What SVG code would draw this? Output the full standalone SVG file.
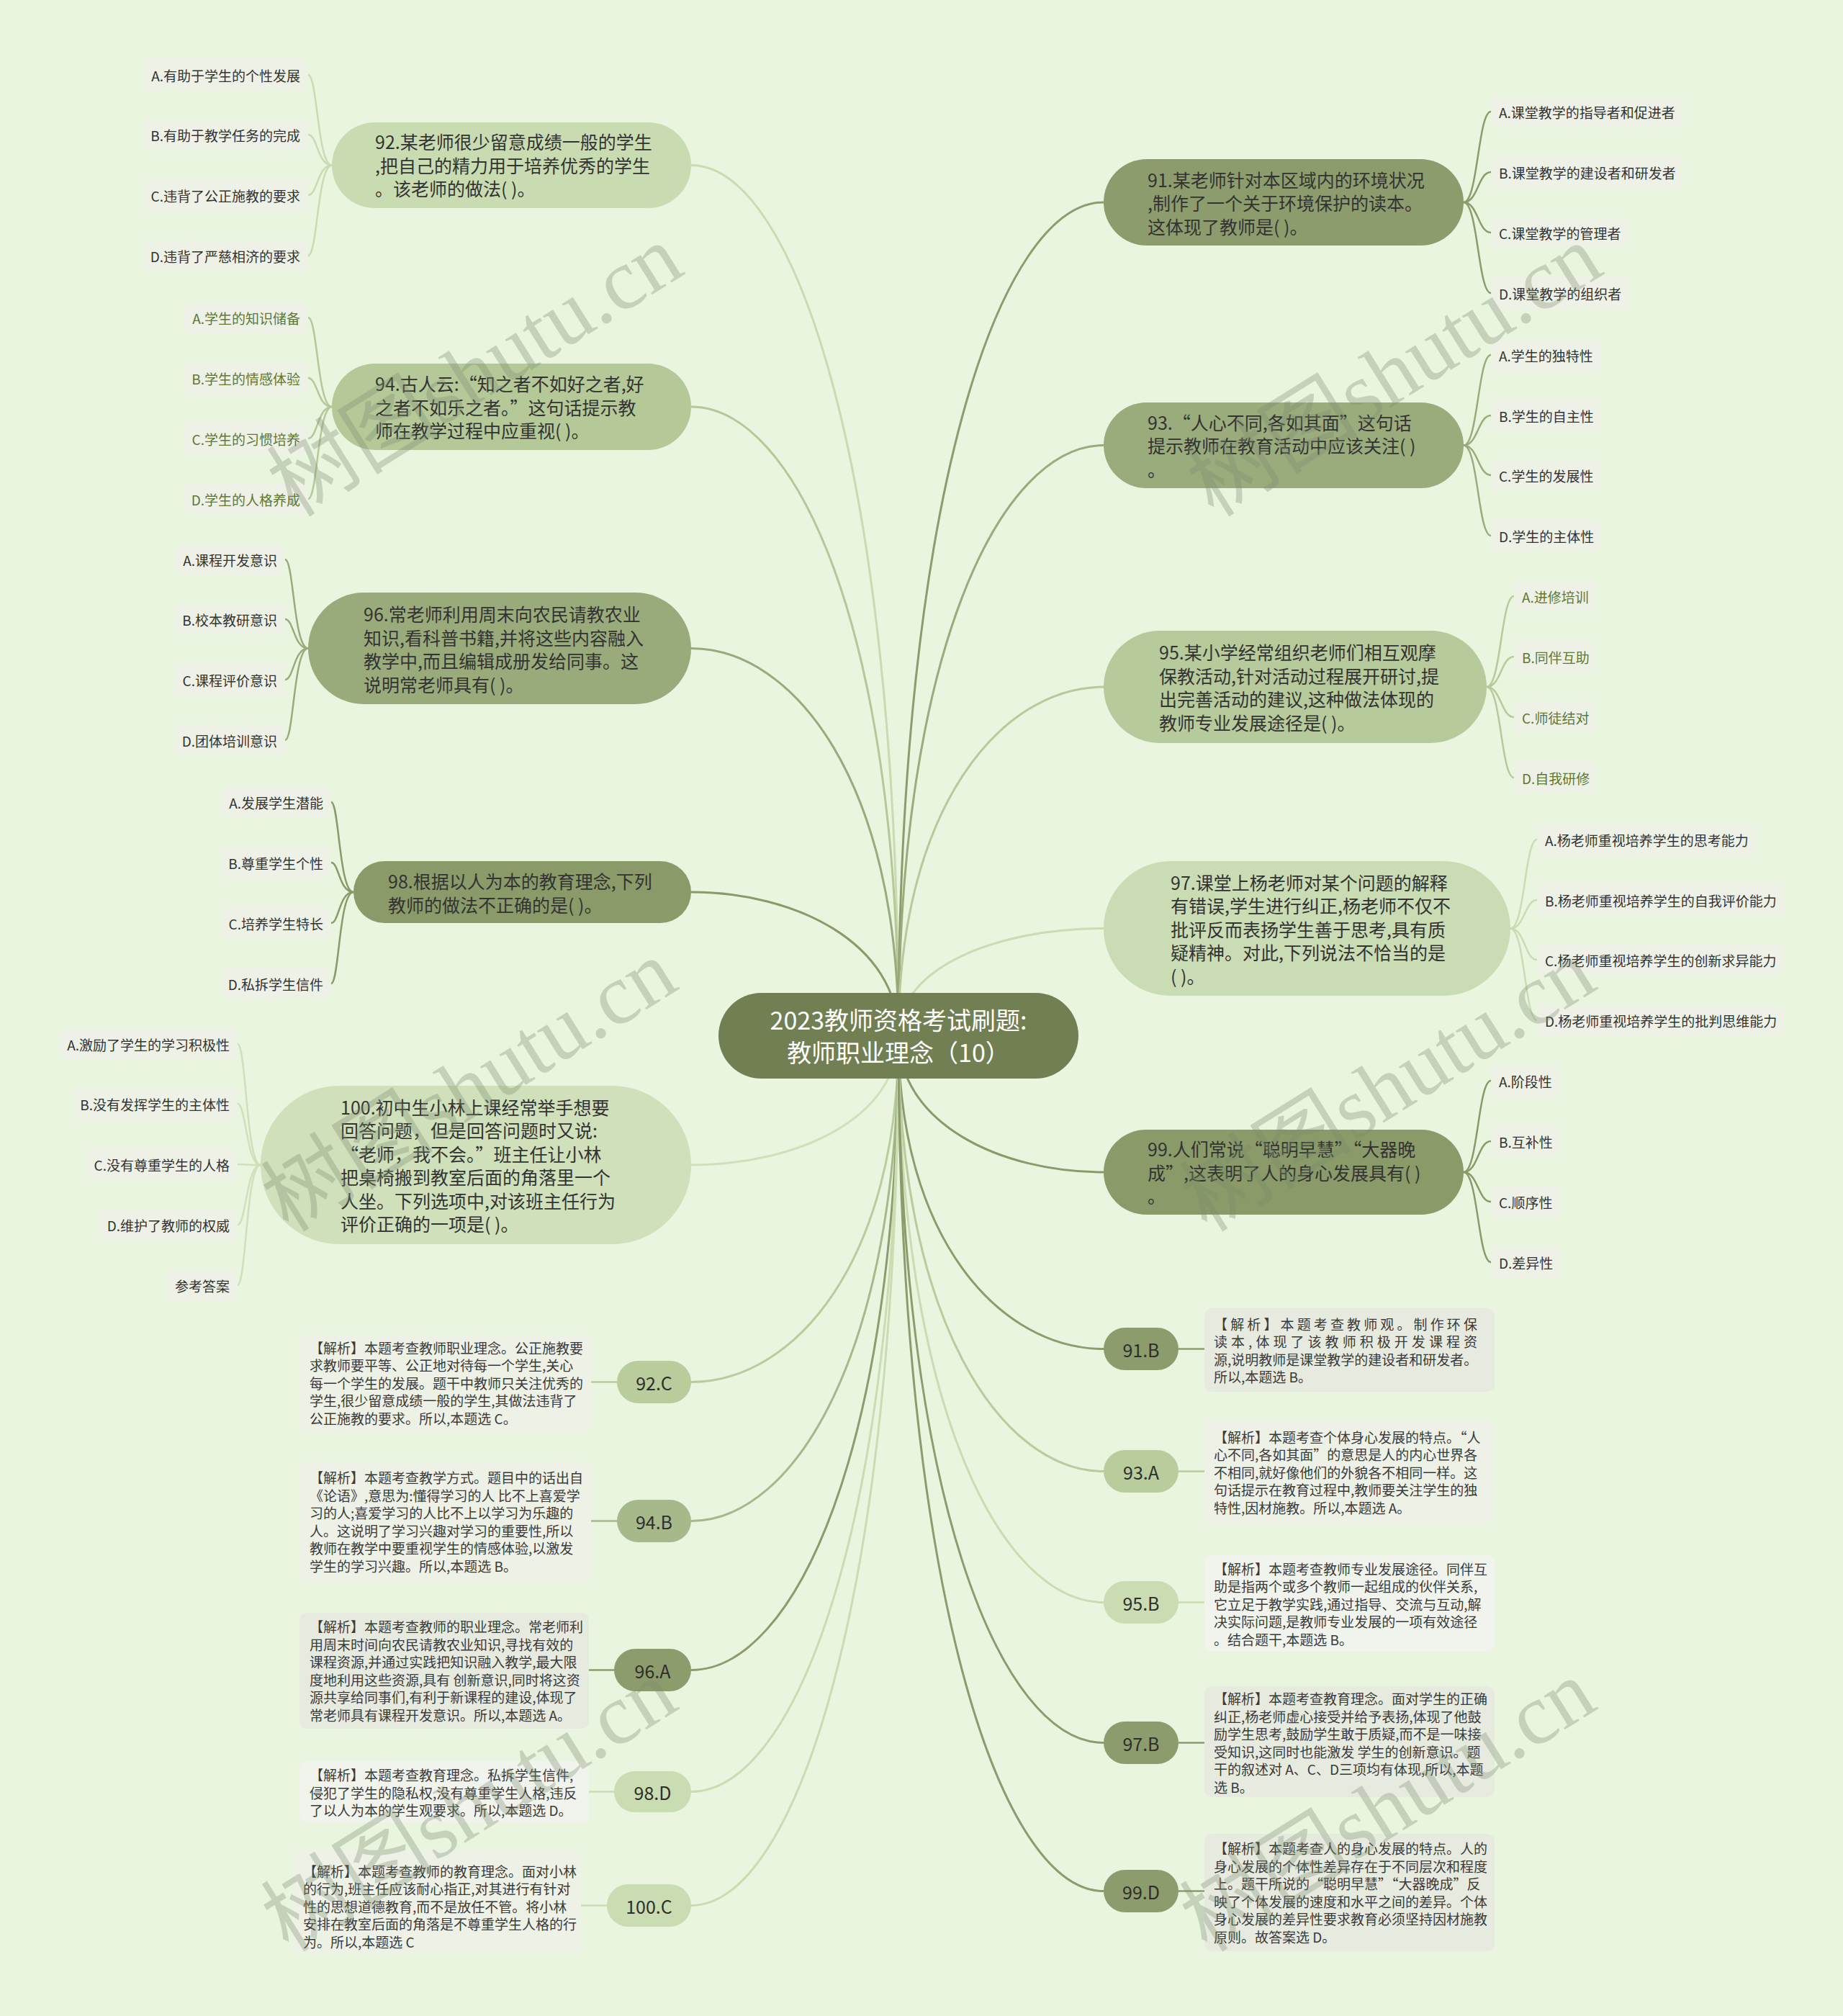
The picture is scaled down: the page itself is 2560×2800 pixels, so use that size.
<svg xmlns="http://www.w3.org/2000/svg" width="2560" height="2800" viewBox="0 0 2560 2800">
<style>
.t{font-family:"Noto Sans CJK SC","Noto Sans",sans-serif;dominant-baseline:central}
.main{font-size:25px;fill:#333}
.opt{font-size:19px;fill:#333}
.ol{text-anchor:end}
.g{fill:#5f7833}
.note{font-size:19px;fill:#3a3a3a}
.ans{font-size:25px;fill:#2e2e2e;text-anchor:middle}
.root{font-size:34px;fill:#fff;text-anchor:middle}
.ob{fill:#eef2e6}
.nb{fill:#edf1e6}
.c{fill:none;stroke-width:3}
.oc{fill:none;stroke-width:2.5}
.wm{font-family:"Liberation Serif","Noto Sans CJK SC",serif;font-size:120px;fill:#7d8c70;opacity:0.32;text-anchor:middle;dominant-baseline:central}
</style>
<rect x="0" y="0" width="2560" height="2800" fill="#e9f5de"/>

<g id="connectors">
<path class="c" stroke="#c9dcb1" d="M1248,1438 C1248,652 1104,229.5 960,229.5"/>
<path class="c" stroke="#b4c898" d="M1248,1438 C1248,871 1104,565 960,565"/>
<path class="c" stroke="#9aab7b" d="M1248,1438 C1248,1089 1104,900.5 960,900.5"/>
<path class="c" stroke="#8a9a69" d="M1248,1438 C1248,1309 1104,1239 960,1239"/>
<path class="c" stroke="#cfe0bb" d="M1248,1438 C1248,1555 1104,1618 960,1618"/>
<path class="c" stroke="#b8cc9c" d="M1248,1438 C1248,1751 1104,1919.5 960,1919.5"/>
<path class="c" stroke="#a6b98a" d="M1248,1438 C1248,1876 1104,2112.5 960,2112.5"/>
<path class="c" stroke="#8d9c6c" d="M1248,1438 C1248,2011 1104,2319.5 960,2319.5"/>
<path class="c" stroke="#c9dcb2" d="M1248,1438 C1248,2121 1104,2488.5 960,2488.5"/>
<path class="c" stroke="#c9dcb2" d="M1248,1438 C1248,2223 1104,2646.5 960,2646.5"/>
<path class="c" stroke="#8d9c6d" d="M1248,1438 C1248,686 1390,281 1533,281"/>
<path class="c" stroke="#9aab7c" d="M1248,1438 C1248,905 1390,618.5 1533,618.5"/>
<path class="c" stroke="#b6ca9b" d="M1248,1438 C1248,1123 1390,954 1533,954"/>
<path class="c" stroke="#cadcb3" d="M1248,1438 C1248,1341 1390,1289.5 1533,1289.5"/>
<path class="c" stroke="#8a9a68" d="M1248,1438 C1248,1561 1390,1628 1533,1628"/>
<path class="c" stroke="#8d9c6c" d="M1248,1438 C1248,1721 1390,1873.5 1533,1873.5"/>
<path class="c" stroke="#b8cc9c" d="M1248,1438 C1248,1832 1390,2043.5 1533,2043.5"/>
<path class="c" stroke="#c9dcb2" d="M1248,1438 C1248,1950 1390,2225.5 1533,2225.5"/>
<path class="c" stroke="#8d9c6c" d="M1248,1438 C1248,2077 1390,2420.5 1533,2420.5"/>
<path class="c" stroke="#8d9c6c" d="M1248,1438 C1248,2210 1390,2626.5 1533,2626.5"/>

<g stroke="#c9dcb1" class="oc">
<path d="M461,229.5 C441,229.5 441,104 428,104"/><path d="M461,229.5 C441,229.5 441,187 428,187"/><path d="M461,229.5 C441,229.5 441,271 428,271"/><path d="M461,229.5 C441,229.5 441,355 428,355"/>
</g>
<g stroke="#b4c898" class="oc">
<path d="M461,565 C441,565 441,441 428,441"/><path d="M461,565 C441,565 441,525 428,525"/><path d="M461,565 C441,565 441,609 428,609"/><path d="M461,565 C441,565 441,693 428,693"/>
</g>
<g stroke="#9aab7b" class="oc">
<path d="M428,900.5 C408,900.5 408,777 396,777"/><path d="M428,900.5 C408,900.5 408,860 396,860"/><path d="M428,900.5 C408,900.5 408,944 396,944"/><path d="M428,900.5 C408,900.5 408,1028 396,1028"/>
</g>
<g stroke="#8a9a69" class="oc">
<path d="M491,1239 C471,1239 471,1114 460,1114"/><path d="M491,1239 C471,1239 471,1198 460,1198"/><path d="M491,1239 C471,1239 471,1282 460,1282"/><path d="M491,1239 C471,1239 471,1366 460,1366"/>
</g>
<g stroke="#cfe0bb" class="oc">
<path d="M362,1618 C342,1618 342,1450 330,1450"/><path d="M362,1618 C342,1618 342,1533 330,1533"/><path d="M362,1618 C342,1618 342,1617 330,1617"/><path d="M362,1618 C342,1618 342,1701 330,1701"/><path d="M362,1618 C342,1618 342,1785 330,1785"/>
</g>
<g stroke="#8d9c6d" class="oc">
<path d="M2033,281 C2053,281 2053,155 2071,155"/><path d="M2033,281 C2053,281 2053,239 2071,239"/><path d="M2033,281 C2053,281 2053,323 2071,323"/><path d="M2033,281 C2053,281 2053,407 2071,407"/>
</g>
<g stroke="#9aab7c" class="oc">
<path d="M2033,618.5 C2053,618.5 2053,493 2071,493"/><path d="M2033,618.5 C2053,618.5 2053,577 2071,577"/><path d="M2033,618.5 C2053,618.5 2053,660 2071,660"/><path d="M2033,618.5 C2053,618.5 2053,744 2071,744"/>
</g>
<g stroke="#b6ca9b" class="oc">
<path d="M2065,954 C2085,954 2085,828 2103,828"/><path d="M2065,954 C2085,954 2085,912 2103,912"/><path d="M2065,954 C2085,954 2085,996 2103,996"/><path d="M2065,954 C2085,954 2085,1080 2103,1080"/>
</g>
<g stroke="#cadcb3" class="oc">
<path d="M2098,1289.5 C2118,1289.5 2118,1166 2135,1166"/><path d="M2098,1289.5 C2118,1289.5 2118,1250 2135,1250"/><path d="M2098,1289.5 C2118,1289.5 2118,1333 2135,1333"/><path d="M2098,1289.5 C2118,1289.5 2118,1417 2135,1417"/>
</g>
<g stroke="#8a9a68" class="oc">
<path d="M2033,1628 C2053,1628 2053,1501 2071,1501"/><path d="M2033,1628 C2053,1628 2053,1585 2071,1585"/><path d="M2033,1628 C2053,1628 2053,1669 2071,1669"/><path d="M2033,1628 C2053,1628 2053,1753 2071,1753"/>
</g>
<g class="oc">
<path stroke="#b8cc9c" d="M857,1919.5 L821,1919.5"/>
<path stroke="#a6b98a" d="M857,2112.5 L821,2112.5"/>
<path stroke="#8d9c6c" d="M853,2319.5 L818,2319.5"/>
<path stroke="#c9dcb2" d="M853,2488.5 L818,2488.5"/>
<path stroke="#c9dcb2" d="M843,2646.5 L807,2646.5"/>
<path stroke="#8d9c6c" d="M1637,1873.5 L1673,1873.5"/>
<path stroke="#b8cc9c" d="M1637,2043.5 L1673,2043.5"/>
<path stroke="#c9dcb2" d="M1637,2225.5 L1673,2225.5"/>
<path stroke="#8d9c6c" d="M1637,2420.5 L1673,2420.5"/>
<path stroke="#8d9c6c" d="M1637,2626.5 L1673,2626.5"/>
</g>
</g>

<g id="root">
<rect x="998" y="1379" width="500" height="119" rx="59.5" fill="#727f52"/>
<text class="t root" x="1248" y="1415">2023教师资格考试刷题:</text>
<text class="t root" x="1248" y="1460">教师职业理念（10）</text>
</g>

<g id="q92">
<rect x="461" y="170" width="499" height="119" rx="59.5" fill="#c9dcb1"/>
<text class="t main" x="521" y="196">92.某老师很少留意成绩一般的学生</text>
<text class="t main" x="521" y="228.5">,把自己的精力用于培养优秀的学生</text>
<text class="t main" x="521" y="261">。该老师的做法( )。</text>
</g>
<g id="q92-opts">
<rect class="ob" x="199" y="82" width="229" height="44" rx="9"/><text class="t opt ol" x="417" y="104">A.有助于学生的个性发展</text>
<rect class="ob" x="199" y="165" width="229" height="44" rx="9"/><text class="t opt ol" x="417" y="187">B.有助于教学任务的完成</text>
<rect class="ob" x="199" y="249" width="229" height="44" rx="9"/><text class="t opt ol" x="417" y="271">C.违背了公正施教的要求</text>
<rect class="ob" x="199" y="333" width="229" height="44" rx="9"/><text class="t opt ol" x="417" y="355">D.违背了严慈相济的要求</text>
</g>

<g id="q94">
<rect x="461" y="505" width="499" height="120" rx="60" fill="#b4c898"/>
<text class="t main" x="521" y="532">94.古人云:“知之者不如好之者,好</text>
<text class="t main" x="521" y="564.5">之者不如乐之者。”这句话提示教</text>
<text class="t main" x="521" y="597">师在教学过程中应重视( )。</text>
</g>
<g id="q94-opts">
<rect class="ob" x="256" y="419" width="172" height="44" rx="9"/><text class="t opt ol g" x="417" y="441">A.学生的知识储备</text>
<rect class="ob" x="256" y="503" width="172" height="44" rx="9"/><text class="t opt ol g" x="417" y="525">B.学生的情感体验</text>
<rect class="ob" x="256" y="587" width="172" height="44" rx="9"/><text class="t opt ol g" x="417" y="609">C.学生的习惯培养</text>
<rect class="ob" x="256" y="671" width="172" height="44" rx="9"/><text class="t opt ol g" x="417" y="693">D.学生的人格养成</text>
</g>

<g id="q96">
<rect x="428" y="823" width="532" height="155" rx="77.5" fill="#9aab7b"/>
<text class="t main" x="505" y="852">96.常老师利用周末向农民请教农业</text>
<text class="t main" x="505" y="884.5">知识,看科普书籍,并将这些内容融入</text>
<text class="t main" x="505" y="917">教学中,而且编辑成册发给同事。这</text>
<text class="t main" x="505" y="949.5">说明常老师具有( )。</text>
</g>
<g id="q96-opts">
<rect class="ob" x="243" y="755" width="153" height="44" rx="9"/><text class="t opt ol" x="385" y="777">A.课程开发意识</text>
<rect class="ob" x="243" y="838" width="153" height="44" rx="9"/><text class="t opt ol" x="385" y="860">B.校本教研意识</text>
<rect class="ob" x="243" y="922" width="153" height="44" rx="9"/><text class="t opt ol" x="385" y="944">C.课程评价意识</text>
<rect class="ob" x="243" y="1006" width="153" height="44" rx="9"/><text class="t opt ol" x="385" y="1028">D.团体培训意识</text>
</g>

<g id="q98">
<rect x="491" y="1196" width="469" height="86" rx="43" fill="#8a9a69"/>
<text class="t main" x="539" y="1223">98.根据以人为本的教育理念,下列</text>
<text class="t main" x="539" y="1255.5">教师的做法不正确的是( )。</text>
</g>
<g id="q98-opts">
<rect class="ob" x="307" y="1092" width="153" height="44" rx="9"/><text class="t opt ol" x="449" y="1114">A.发展学生潜能</text>
<rect class="ob" x="307" y="1176" width="153" height="44" rx="9"/><text class="t opt ol" x="449" y="1198">B.尊重学生个性</text>
<rect class="ob" x="307" y="1260" width="153" height="44" rx="9"/><text class="t opt ol" x="449" y="1282">C.培养学生特长</text>
<rect class="ob" x="307" y="1344" width="153" height="44" rx="9"/><text class="t opt ol" x="449" y="1366">D.私拆学生信件</text>
</g>

<g id="q100">
<rect x="362" y="1508" width="598" height="220" rx="110" fill="#cfe0bb"/>
<text class="t main" x="473" y="1536.75">100.初中生小林上课经常举手想要</text>
<text class="t main" x="473" y="1569.25">回答问题，但是回答问题时又说:</text>
<text class="t main" x="473" y="1601.75">“老师，我不会。”班主任让小林</text>
<text class="t main" x="473" y="1634.25">把桌椅搬到教室后面的角落里一个</text>
<text class="t main" x="473" y="1666.75">人坐。下列选项中,对该班主任行为</text>
<text class="t main" x="473" y="1699.25">评价正确的一项是( )。</text>
</g>
<g id="q100-opts">
<rect class="ob" x="82" y="1428" width="248" height="44" rx="9"/><text class="t opt ol" x="319" y="1450">A.激励了学生的学习积极性</text>
<rect class="ob" x="101" y="1511" width="229" height="44" rx="9"/><text class="t opt ol" x="319" y="1533">B.没有发挥学生的主体性</text>
<rect class="ob" x="120" y="1595" width="210" height="44" rx="9"/><text class="t opt ol" x="319" y="1617">C.没有尊重学生的人格</text>
<rect class="ob" x="139" y="1679" width="191" height="44" rx="9"/><text class="t opt ol" x="319" y="1701">D.维护了教师的权威</text>
<rect class="ob" x="232" y="1763" width="98" height="44" rx="9"/><text class="t opt ol" x="319" y="1785">参考答案</text>
</g>

<g id="q91">
<rect x="1533" y="221" width="500" height="120" rx="60" fill="#8d9c6d"/>
<text class="t main" x="1594" y="248.5">91.某老师针对本区域内的环境状况</text>
<text class="t main" x="1594" y="281">,制作了一个关于环境保护的读本。</text>
<text class="t main" x="1594" y="313.5">这体现了教师是( )。</text>
</g>
<g id="q91-opts">
<rect class="ob" x="2071" y="133" width="267" height="44" rx="9"/><text class="t opt" x="2082" y="155">A.课堂教学的指导者和促进者</text>
<rect class="ob" x="2071" y="217" width="267" height="44" rx="9"/><text class="t opt" x="2082" y="239">B.课堂教学的建设者和研发者</text>
<rect class="ob" x="2071" y="301" width="191" height="44" rx="9"/><text class="t opt" x="2082" y="323">C.课堂教学的管理者</text>
<rect class="ob" x="2071" y="385" width="191" height="44" rx="9"/><text class="t opt" x="2082" y="407">D.课堂教学的组织者</text>
</g>

<g id="q93">
<rect x="1533" y="559" width="500" height="119" rx="59.5" fill="#9aab7c"/>
<text class="t main" x="1594" y="585.5">93.“人心不同,各如其面”这句话</text>
<text class="t main" x="1594" y="618">提示教师在教育活动中应该关注( )</text>
<text class="t main" x="1594" y="650.5">。</text>
</g>
<g id="q93-opts">
<rect class="ob" x="2071" y="471" width="153" height="44" rx="9"/><text class="t opt" x="2082" y="493">A.学生的独特性</text>
<rect class="ob" x="2071" y="555" width="153" height="44" rx="9"/><text class="t opt" x="2082" y="577">B.学生的自主性</text>
<rect class="ob" x="2071" y="638" width="153" height="44" rx="9"/><text class="t opt" x="2082" y="660">C.学生的发展性</text>
<rect class="ob" x="2071" y="722" width="153" height="44" rx="9"/><text class="t opt" x="2082" y="744">D.学生的主体性</text>
</g>

<g id="q95">
<rect x="1533" y="876" width="532" height="156" rx="78" fill="#b6ca9b"/>
<text class="t main" x="1610" y="905.25">95.某小学经常组织老师们相互观摩</text>
<text class="t main" x="1610" y="937.75">保教活动,针对活动过程展开研讨,提</text>
<text class="t main" x="1610" y="970.25">出完善活动的建议,这种做法体现的</text>
<text class="t main" x="1610" y="1002.75">教师专业发展途径是( )。</text>
</g>
<g id="q95-opts">
<rect class="ob" x="2103" y="806" width="115" height="44" rx="9"/><text class="t opt g" x="2114" y="828">A.进修培训</text>
<rect class="ob" x="2103" y="890" width="115" height="44" rx="9"/><text class="t opt g" x="2114" y="912">B.同伴互助</text>
<rect class="ob" x="2103" y="974" width="115" height="44" rx="9"/><text class="t opt g" x="2114" y="996">C.师徒结对</text>
<rect class="ob" x="2103" y="1058" width="115" height="44" rx="9"/><text class="t opt g" x="2114" y="1080">D.自我研修</text>
</g>

<g id="q97">
<rect x="1533" y="1196" width="565" height="187" rx="93.5" fill="#cadcb3"/>
<text class="t main" x="1626" y="1224.5">97.课堂上杨老师对某个问题的解释</text>
<text class="t main" x="1626" y="1257">有错误,学生进行纠正,杨老师不仅不</text>
<text class="t main" x="1626" y="1289.5">批评反而表扬学生善于思考,具有质</text>
<text class="t main" x="1626" y="1322">疑精神。对此,下列说法不恰当的是</text>
<text class="t main" x="1626" y="1354.5">( )。</text>
</g>
<g id="q97-opts">
<rect class="ob" x="2135" y="1144" width="305" height="44" rx="9"/><text class="t opt" x="2146" y="1166">A.杨老师重视培养学生的思考能力</text>
<rect class="ob" x="2135" y="1228" width="343" height="44" rx="9"/><text class="t opt" x="2146" y="1250">B.杨老师重视培养学生的自我评价能力</text>
<rect class="ob" x="2135" y="1311" width="343" height="44" rx="9"/><text class="t opt" x="2146" y="1333">C.杨老师重视培养学生的创新求异能力</text>
<rect class="ob" x="2135" y="1395" width="343" height="44" rx="9"/><text class="t opt" x="2146" y="1417">D.杨老师重视培养学生的批判思维能力</text>
</g>

<g id="q99">
<rect x="1533" y="1569" width="500" height="118" rx="59" fill="#8a9a68"/>
<text class="t main" x="1594" y="1595">99.人们常说“聪明早慧”“大器晚</text>
<text class="t main" x="1594" y="1627.5">成”,这表明了人的身心发展具有( )</text>
<text class="t main" x="1594" y="1660">。</text>
</g>
<g id="q99-opts">
<rect class="ob" x="2071" y="1479" width="96" height="44" rx="9"/><text class="t opt" x="2082" y="1501">A.阶段性</text>
<rect class="ob" x="2071" y="1563" width="96" height="44" rx="9"/><text class="t opt" x="2082" y="1585">B.互补性</text>
<rect class="ob" x="2071" y="1647" width="96" height="44" rx="9"/><text class="t opt" x="2082" y="1669">C.顺序性</text>
<rect class="ob" x="2071" y="1731" width="96" height="44" rx="9"/><text class="t opt" x="2082" y="1753">D.差异性</text>
</g>

<g id="a92">
<rect x="857" y="1890" width="103" height="59" rx="29.5" fill="#b8cc9c"/>
<text class="t ans" x="908.5" y="1919.5">92.C</text>
<rect class="nb" x="416" y="1853" width="405" height="134" rx="10"/>
<text class="t note g" x="430" y="1871">【解析】本题考查教师职业理念。公正施教要</text>
<text class="t note g" x="430" y="1895.5">求教师要平等、公正地对待每一个学生,关心</text>
<text class="t note g" x="430" y="1920">每一个学生的发展。题干中教师只关注优秀的</text>
<text class="t note g" x="430" y="1944.5">学生,很少留意成绩一般的学生,其做法违背了</text>
<text class="t note g" x="430" y="1969">公正施教的要求。所以,本题选 C。</text>
</g>

<g id="a94">
<rect x="857" y="2083" width="103" height="59" rx="29.5" fill="#a6b98a"/>
<text class="t ans" x="908.5" y="2112.5">94.B</text>
<rect class="nb" x="416" y="2030" width="405" height="166" rx="10"/>
<text class="t note" x="430" y="2051.8">【解析】本题考查教学方式。题目中的话出自</text>
<text class="t note" x="430" y="2076.3">《论语》,意思为:懂得学习的人 比不上喜爱学</text>
<text class="t note" x="430" y="2100.8">习的人;喜爱学习的人比不上以学习为乐趣的</text>
<text class="t note" x="430" y="2125.3">人。这说明了学习兴趣对学习的重要性,所以</text>
<text class="t note" x="430" y="2149.8">教师在教学中要重视学生的情感体验,以激发</text>
<text class="t note" x="430" y="2174.3">学生的学习兴趣。所以,本题选 B。</text>
</g>

<g id="a96">
<rect x="853" y="2290" width="107" height="59" rx="29.5" fill="#8d9c6c"/>
<text class="t ans" x="906.5" y="2319.5">96.A</text>
<rect class="nb" x="416" y="2240" width="402" height="161" rx="10" fill="#e7ebdf" style="fill:#e7ebdf"/>
<text class="t note" x="430" y="2258.8">【解析】本题考查教师的职业理念。常老师利</text>
<text class="t note" x="430" y="2283.3">用周末时间向农民请教农业知识,寻找有效的</text>
<text class="t note" x="430" y="2307.8">课程资源,并通过实践把知识融入教学,最大限</text>
<text class="t note" x="430" y="2332.3">度地利用这些资源,具有 创新意识,同时将这资</text>
<text class="t note" x="430" y="2356.8">源共享给同事们,有利于新课程的建设,体现了</text>
<text class="t note" x="430" y="2381.3">常老师具有课程开发意识。所以,本题选 A。</text>
</g>

<g id="a98">
<rect x="853" y="2460" width="107" height="57" rx="28.5" fill="#c9dcb2"/>
<text class="t ans" x="906.5" y="2488.5">98.D</text>
<rect class="nb" x="416" y="2446" width="402" height="85" rx="10" style="fill:#f1f4ec"/>
<text class="t note" x="430" y="2464.5">【解析】本题考查教育理念。私拆学生信件,</text>
<text class="t note" x="430" y="2489">侵犯了学生的隐私权,没有尊重学生人格,违反</text>
<text class="t note" x="430" y="2513.5">了以人为本的学生观要求。所以,本题选 D。</text>
</g>

<g id="a100">
<rect x="843" y="2617" width="117" height="59" rx="29.5" fill="#c9dcb2"/>
<text class="t ans" x="901.5" y="2646.5">100.C</text>
<rect class="nb" x="407" y="2571" width="400" height="142" rx="10"/>
<text class="t note g" x="421" y="2598">【解析】本题考查教师的教育理念。面对小林</text>
<text class="t note g" x="421" y="2622.5">的行为,班主任应该耐心指正,对其进行有针对</text>
<text class="t note g" x="421" y="2647">性的思想道德教育,而不是放任不管。将小林</text>
<text class="t note g" x="421" y="2671.5">安排在教室后面的角落是不尊重学生人格的行</text>
<text class="t note g" x="421" y="2696">为。所以,本题选 C</text>
</g>

<g id="a91">
<rect x="1533" y="1844" width="104" height="59" rx="29.5" fill="#8d9c6c"/>
<text class="t ans" x="1585" y="1873.5">91.B</text>
<rect class="nb" x="1673" y="1817" width="403" height="116" rx="10" style="fill:#e7ebdf"/>
<text class="t note" x="1686" y="1838.25" textLength="366" lengthAdjust="spacing">【解析】本题考查教师观。制作环保</text>
<text class="t note" x="1686" y="1862.75" textLength="366" lengthAdjust="spacing">读本,体现了该教师积极开发课程资</text>
<text class="t note" x="1686" y="1887.25">源,说明教师是课堂教学的建设者和研发者。</text>
<text class="t note" x="1686" y="1911.75">所以,本题选 B。</text>
</g>

<g id="a93">
<rect x="1533" y="2014" width="104" height="59" rx="29.5" fill="#b8cc9c"/>
<text class="t ans" x="1585" y="2043.5">93.A</text>
<rect class="nb" x="1673" y="1971" width="403" height="144" rx="10"/>
<text class="t note g" x="1686" y="1995">【解析】本题考查个体身心发展的特点。“人</text>
<text class="t note g" x="1686" y="2019.5">心不同,各如其面”的意思是人的内心世界各</text>
<text class="t note g" x="1686" y="2044">不相同,就好像他们的外貌各不相同一样。这</text>
<text class="t note g" x="1686" y="2068.5">句话提示在教育过程中,教师要关注学生的独</text>
<text class="t note g" x="1686" y="2093">特性,因材施教。所以,本题选 A。</text>
</g>

<g id="a95">
<rect x="1533" y="2196" width="104" height="59" rx="29.5" fill="#c9dcb2"/>
<text class="t ans" x="1585" y="2225.5">95.B</text>
<rect class="nb" x="1673" y="2160" width="403" height="134" rx="10" style="fill:#f1f4ec"/>
<text class="t note" x="1686" y="2178">【解析】本题考查教师专业发展途径。同伴互</text>
<text class="t note" x="1686" y="2202.5">助是指两个或多个教师一起组成的伙伴关系,</text>
<text class="t note" x="1686" y="2227">它立足于教学实践,通过指导、交流与互动,解</text>
<text class="t note" x="1686" y="2251.5">决实际问题,是教师专业发展的一项有效途径</text>
<text class="t note" x="1686" y="2276">。结合题干,本题选 B。</text>
</g>

<g id="a97">
<rect x="1533" y="2391" width="104" height="59" rx="29.5" fill="#8d9c6c"/>
<text class="t ans" x="1585" y="2420.5">97.B</text>
<rect class="nb" x="1673" y="2342" width="403" height="154" rx="10" style="fill:#e7ebdf"/>
<text class="t note" x="1686" y="2358.75">【解析】本题考查教育理念。面对学生的正确</text>
<text class="t note" x="1686" y="2383.25">纠正,杨老师虚心接受并给予表扬,体现了他鼓</text>
<text class="t note" x="1686" y="2407.75">励学生思考,鼓励学生敢于质疑,而不是一味接</text>
<text class="t note" x="1686" y="2432.25">受知识,这同时也能激发 学生的创新意识。题</text>
<text class="t note" x="1686" y="2456.75">干的叙述对 A、C、D三项均有体现,所以,本题</text>
<text class="t note" x="1686" y="2481.25">选 B。</text>
</g>

<g id="a99">
<rect x="1533" y="2597" width="104" height="59" rx="29.5" fill="#8d9c6c"/>
<text class="t ans" x="1585" y="2626.5">99.D</text>
<rect class="nb" x="1673" y="2547" width="403" height="163" rx="10" style="fill:#e7ebdf"/>
<text class="t note" x="1686" y="2566.75">【解析】本题考查人的身心发展的特点。人的</text>
<text class="t note" x="1686" y="2591.25">身心发展的个体性差异存在于不同层次和程度</text>
<text class="t note" x="1686" y="2615.75">上。题干所说的“聪明早慧”“大器晚成”反</text>
<text class="t note" x="1686" y="2640.25">映了个体发展的速度和水平之间的差异。个体</text>
<text class="t note" x="1686" y="2664.75">身心发展的差异性要求教育必须坚持因材施教</text>
<text class="t note" x="1686" y="2689.25">原则。故答案选 D。</text>
</g>

<g id="watermarks">
<text class="wm" transform="translate(660,515) rotate(-32)">树图shutu.cn</text>
<text class="wm" transform="translate(1937,515) rotate(-32)">树图shutu.cn</text>
<text class="wm" transform="translate(652,1508) rotate(-32)">树图shutu.cn</text>
<text class="wm" transform="translate(1928,1508) rotate(-32)">树图shutu.cn</text>
<text class="wm" transform="translate(652,2508) rotate(-32)">树图shutu.cn</text>
<text class="wm" transform="translate(1928,2508) rotate(-32)">树图shutu.cn</text>
</g>
</svg>
